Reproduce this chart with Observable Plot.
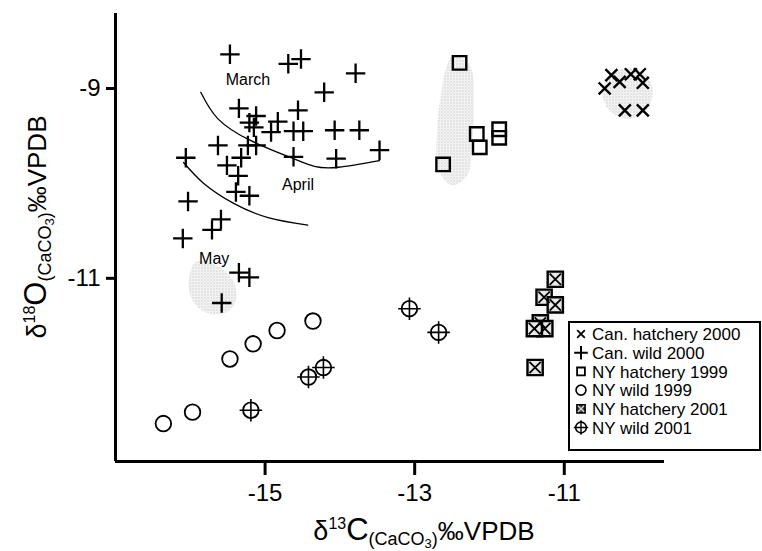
<!DOCTYPE html>
<html><head><meta charset="utf-8">
<script src="https://cdn.jsdelivr.net/npm/d3@7"></script>
<script src="https://cdn.jsdelivr.net/npm/@observablehq/plot@0.6"></script>
<style>
body{margin:0;background:#fff;}
#chart{position:relative;width:762px;height:551px;}
</style></head><body><div id="chart"></div>
<script>
// ---- data ----
const xDomain = [-17, -9.66];
const yDomain = [-12.93, -8.21];
const xTicks = [-15, -13, -11];
const yTicks = [-11, -9];

const canHatchX = [-10.46, -10.37, -10.26, -10.11, -9.99, -9.95, -10.19, -9.95];
const canHatchY = [-9.00, -8.86, -8.93, -8.85, -8.85, -8.94, -9.23, -9.23];

const canWildX = [-15.47, -14.69, -14.52, -13.79, -14.21, -15.35, -14.56, -15.12, -15.21, -14.83, -15.15, -14.92, -14.62, -14.49, -14.07, -13.74, -13.47, -15.63, -15.23, -15.12, -15.32, -14.62, -14.05, -16.06, -15.51, -15.36, -15.39, -15.21, -16.03, -15.59, -15.71, -16.10, -15.35, -15.21, -15.58];
const canWildY = [-8.64, -8.74, -8.69, -8.84, -9.04, -9.21, -9.23, -9.29, -9.36, -9.35, -9.41, -9.46, -9.45, -9.45, -9.44, -9.44, -9.65, -9.60, -9.60, -9.60, -9.73, -9.72, -9.74, -9.73, -9.81, -9.92, -10.09, -10.13, -10.19, -10.38, -10.49, -10.58, -10.94, -10.99, -11.26];

const nyHatch99X = [-12.40, -12.17, -12.13, -11.87, -11.87, -12.62];
const nyHatch99Y = [-8.73, -9.48, -9.62, -9.43, -9.52, -9.80];

const nyWild99X = [-16.36, -15.97, -15.47, -15.16, -14.84, -14.36];
const nyWild99Y = [-12.53, -12.41, -11.85, -11.69, -11.55, -11.45];

const nyHatch01X = [-11.12, -11.27, -11.12, -11.32, -11.26, -11.40, -11.39];
const nyHatch01Y = [-11.01, -11.20, -11.28, -11.47, -11.53, -11.53, -11.94];

const nyWild01X = [-15.19, -14.42, -14.22, -13.07, -12.68];
const nyWild01Y = [-12.39, -12.04, -11.94, -11.32, -11.57];

// month boundary curves
const curveMarchX = [-15.86, -15.63, -15.19, -14.65, -14.34, -14.02, -13.47];
const curveMarchY = [-9.04, -9.32, -9.55, -9.73, -9.82, -9.83, -9.76];
const curveAprilX = [-16.09, -15.82, -15.42, -14.96, -14.43];
const curveAprilY = [-9.78, -10.00, -10.21, -10.36, -10.44];

const monthLabels = ["March", "April", "May"];
const monthX = [-15.23, -14.56, -15.68];
const monthY = [-8.91, -10.02, -10.79];

// stippled shaded regions
const blobMayX = [-15.93, -15.66, -15.43, -15.39, -15.52, -15.79, -15.97, -16.02];
const blobMayY = [-10.83, -10.86, -11.02, -11.23, -11.36, -11.36, -11.23, -11.02];
const blobNyX = [-12.48, -12.26, -12.21, -12.23, -12.30, -12.50, -12.68, -12.70, -12.64, -12.57];
const blobNyY = [-8.65, -8.76, -9.13, -9.55, -9.92, -10.02, -9.86, -9.44, -9.02, -8.76];
const blobCanX = [-10.15, -9.89, -9.82, -9.93, -10.15, -10.40, -10.49, -10.40];
const blobCanY = [-8.79, -8.86, -9.07, -9.25, -9.32, -9.23, -9.04, -8.86];
const blobNy01X = [-11.12, -11.03, -11.13, -11.36, -11.46, -11.30];
const blobNy01Y = [-10.94, -11.13, -11.55, -11.60, -11.44, -11.13];

const legendLabels = ["Can. hatchery 2000", "Can. wild 2000", "NY hatchery 1999", "NY wild 1999", "NY hatchery 2001", "NY wild 2001"];

// ---- build rows ----
const rows = (xs, ys, extra = {}) => xs.map((x, i) => ({x, y: ys[i], ...extra}));
const canHatch = rows(canHatchX, canHatchY);
const canWild = rows(canWildX, canWildY);
const nyHatch99 = rows(nyHatch99X, nyHatch99Y);
const nyWild99 = rows(nyWild99X, nyWild99Y);
const nyHatch01 = rows(nyHatch01X, nyHatch01Y);
const nyWild01 = rows(nyWild01X, nyWild01Y);
const curves = [...rows(curveMarchX, curveMarchY, {c: "m"}), ...rows(curveAprilX, curveAprilY, {c: "a"})];
const blobs = [...rows(blobMayX, blobMayY, {b: "may"}), ...rows(blobNyX, blobNyY, {b: "ny"}), ...rows(blobCanX, blobCanY, {b: "can"})];
const blobsFaint = rows(blobNy01X, blobNy01Y, {b: "ny01"});
const months = monthLabels.map((t, i) => ({t, x: monthX[i], y: monthY[i]}));

const FONT = "'Liberation Sans', Arial, Helvetica, sans-serif";
const fmt = d => "-" + Math.abs(d);

const plot = Plot.plot({
  width: 762, height: 551,
  marginLeft: 115, marginRight: 98, marginTop: 13, marginBottom: 90,
  style: {fontFamily: FONT, fontSize: "24px", color: "black", background: "white", overflow: "visible"},
  x: {domain: xDomain, ticks: xTicks, tickSize: 14, tickPadding: 8, tickFormat: fmt, label: null},
  y: {domain: yDomain, ticks: yTicks, tickSize: 9, tickPadding: 6, tickFormat: fmt, label: null},
  marks: [
    Plot.line(blobs, {x: "x", y: "y", z: "b", curve: "catmull-rom-closed", fill: "url(#stipple)", stroke: "none"}),
    Plot.line(blobsFaint, {x: "x", y: "y", z: "b", curve: "catmull-rom-closed", fill: "url(#stipple)", fillOpacity: 0.35, stroke: "none"}),
    Plot.line(curves, {x: "x", y: "y", z: "c", curve: "natural", stroke: "black", strokeWidth: 1.3}),
    Plot.text(months, {x: "x", y: "y", text: "t", fontSize: 16, fill: "black"}),
    Plot.ruleX([xDomain[0]], {stroke: "black", strokeWidth: 3}),
    Plot.ruleY([yDomain[0]], {stroke: "black", strokeWidth: 3}),
    Plot.dot(canHatch, {x: "x", y: "y", symbol: "times", r: 5.5, stroke: "black", strokeWidth: 2.4}),
    Plot.dot(canWild, {x: "x", y: "y", symbol: "plus", r: 6.3, stroke: "black", strokeWidth: 2.3}),
    Plot.dot(nyHatch99, {x: "x", y: "y", symbol: "square", r: 7.6, stroke: "black", fill: "none", strokeWidth: 2.4}),
    Plot.dot(nyWild99, {x: "x", y: "y", symbol: "circle", r: 7.8, stroke: "black", fill: "none", strokeWidth: 1.8}),
    Plot.dot(nyHatch01, {x: "x", y: "y", symbol: "square", r: 8.6, stroke: "black", fill: "#e8e8e8", strokeWidth: 2.4}),
    Plot.dot(nyHatch01, {x: "x", y: "y", symbol: "times", r: 5.2, stroke: "black", strokeWidth: 1.8}),
    Plot.dot(nyWild01, {x: "x", y: "y", symbol: "circle", r: 7.8, stroke: "black", fill: "none", strokeWidth: 1.8}),
    Plot.dot(nyWild01, {x: "x", y: "y", symbol: "plus", r: 7.3, stroke: "black", strokeWidth: 1.6})
  ]
});

const svg = d3.select(plot);
// stipple pattern
const defs = svg.insert("defs", ":first-child");
const pat = defs.append("pattern").attr("id", "stipple").attr("patternUnits", "userSpaceOnUse")
  .attr("width", 3).attr("height", 3);
pat.append("rect").attr("width", 3).attr("height", 3).attr("fill", "#f7f7f7");
pat.append("rect").attr("x", 0).attr("y", 0).attr("width", 1).attr("height", 1).attr("fill", "#b0b0b0");
pat.append("rect").attr("x", 1.5).attr("y", 1.5).attr("width", 1).attr("height", 1).attr("fill", "#d4d4d4");

// thicker ticks
svg.selectAll('[aria-label="x-axis tick"], [aria-label="y-axis tick"]').attr("stroke-width", 3);

// axis titles with super/subscripts
function richLabel(g, segs) {
  const text = g.append("text").attr("text-anchor", "middle").attr("font-family", FONT).attr("fill", "black");
  let cur = 0;
  for (const s of segs) {
    text.append("tspan").attr("font-size", s.size).attr("dy", s.shift - cur).text(s.t);
    cur = s.shift;
  }
  return text;
}
const segs = (iso) => [
  {t: "δ", size: 27, shift: 0},
  {t: iso, size: 16, shift: -11},
  {t: iso === "18" ? "O" : "C", size: 31, shift: 0},
  {t: "(CaCO", size: 18, shift: 5},
  {t: "3", size: 13, shift: 8},
  {t: ")", size: 18, shift: 5},
  {t: "‰VPDB", size: 26, shift: 0}
];
richLabel(svg.append("g").attr("transform", "translate(424,540)"), segs("13"));
richLabel(svg.append("g").attr("transform", "translate(46,227) rotate(-90)"), segs("18"));

// legend
const lg = svg.append("g").attr("transform", "translate(569,322)");
lg.append("rect").attr("width", 191).attr("height", 128).attr("fill", "white").attr("stroke", "black").attr("stroke-width", 2);
const sym = (type, size) => d3.symbol().type(type).size(size)();
legendLabels.forEach((lab, i) => {
  const row = lg.append("g").attr("transform", `translate(12,${12 + i * 18.7})`);
  const s = row.append("g");
  if (i === 0) s.append("path").attr("d", sym(d3.symbolTimes, 40)).attr("stroke", "black").attr("stroke-width", 1.8).attr("fill", "none");
  if (i === 1) s.append("path").attr("d", sym(d3.symbolPlus, 62)).attr("stroke", "black").attr("stroke-width", 2).attr("fill", "none");
  if (i === 2) s.append("path").attr("d", sym(d3.symbolSquare2, 78)).attr("stroke", "black").attr("stroke-width", 1.8).attr("fill", "none");
  if (i === 3) s.append("path").attr("d", sym(d3.symbolCircle, 78)).attr("stroke", "black").attr("stroke-width", 1.6).attr("fill", "none");
  if (i === 4) {
    s.append("path").attr("d", sym(d3.symbolSquare2, 85)).attr("stroke", "black").attr("stroke-width", 1.6).attr("fill", "#444");
    s.append("path").attr("d", sym(d3.symbolTimes, 28)).attr("stroke", "#ddd").attr("stroke-width", 1.2).attr("fill", "none");
  }
  if (i === 5) {
    s.append("path").attr("d", sym(d3.symbolCircle, 90)).attr("stroke", "black").attr("stroke-width", 1.6).attr("fill", "none");
    s.append("path").attr("d", sym(d3.symbolPlus, 70)).attr("stroke", "black").attr("stroke-width", 1.4).attr("fill", "none");
  }
  row.append("text").attr("x", 11).attr("dy", "0.36em").attr("text-anchor", "start").attr("font-family", FONT).attr("font-size", 17).attr("fill", "black").text(lab);
});

document.getElementById("chart").appendChild(plot);
</script></body></html>
